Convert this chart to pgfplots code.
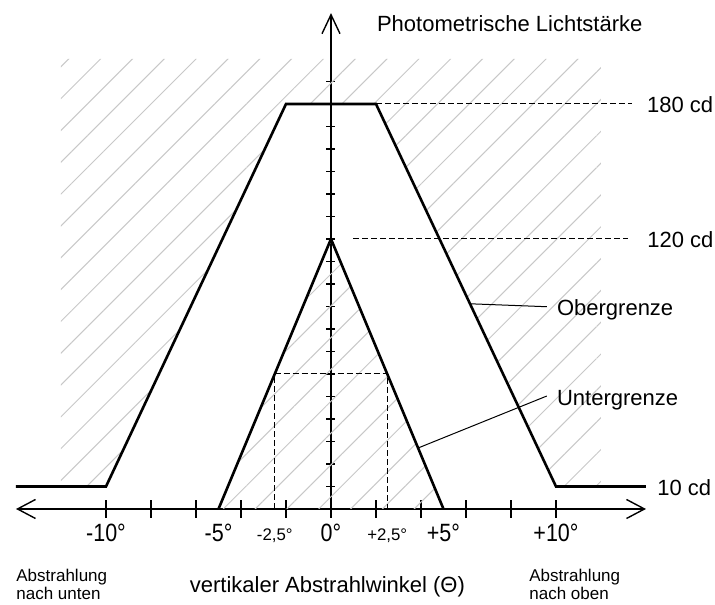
\documentclass[border=0pt]{standalone}
\usepackage{pgfplots}
\pgfplotsset{compat=1.18}
\usepackage{fontspec}
\setmainfont{Liberation Sans}
\newfontfamily\tickfont[FakeStretch=0.86]{Liberation Sans}
\usetikzlibrary{arrows.meta,patterns.meta}
\definecolor{hatch}{RGB}{200,200,200}
\begin{document}
\begin{tikzpicture}
\begin{axis}[
  x=11.25pt, y=1.125pt,
  xmin=-14, xmax=14, ymin=0, ymax=220.4,
  axis lines=middle,
  enlargelimits=false,
  clip=false,
  axis line style={line width=0.7pt, black},
  x axis line style={{Straight Barb[length=9pt,width=9.5pt,line width=0.7pt]}-{Straight Barb[length=9pt,width=9.5pt,line width=0.7pt]}},
  y axis line style={-{Straight Barb[length=9.5pt,width=9pt,line width=0.7pt]}},
  xtick={-10,-8,...,10}, xticklabels={},
  ytick={10,20,30,40,60,70,80,90,110,120,130,140,160,170,180,190}, yticklabels={},
  extra y ticks={50,100,150}, extra y tick labels={},
  tick align=center,
  hide obscured x ticks=false,
  hide obscured y ticks=false,
  xtick style={/pgfplots/major tick length=9pt, black, line width=0.6pt},
  ytick style={/pgfplots/major tick length=4.5pt, black, line width=0.6pt},
  extra y tick style={/pgfplots/major tick length=9.5pt, black, line width=0.6pt},
]
% hatched regions
\addplot[draw=none, pattern={Lines[angle=45,distance=11.25pt,line width=0.5pt]}, pattern color=hatch]
  coordinates {(-12,200) (12,200) (12,10) (10,10) (2,180) (-2,180) (-10,10) (-12,10)} -- cycle;
\addplot[draw=none, pattern={Lines[angle=45,distance=11.25pt,line width=0.5pt]}, pattern color=hatch]
  coordinates {(-5,0) (0,120) (5,0)} -- cycle;
% dashed reference lines
\addplot[black, line width=0.5pt, dash pattern=on 3pt off 1.5pt] coordinates {(2,180) (13.36,180)};
\addplot[black, line width=0.5pt, dash pattern=on 3pt off 1.5pt] coordinates {(1,120) (13.2,120)};
\addplot[black, line width=0.5pt, dash pattern=on 3pt off 1.5pt] coordinates {(-2.5,0) (-2.5,60) (2.5,60) (2.5,0)};
% limit curves
\addplot[black, line width=1.3pt, line join=miter] coordinates {(-14,10) (-10,10) (-2,180) (2,180) (10,10) (14,10)};
\addplot[black, line width=1.3pt, line join=miter] coordinates {(-5,0) (0,120) (5,0)};
% leader lines
\addplot[black, line width=0.5pt] coordinates {(6.18,91.2) (9.59,89.9)};
\addplot[black, line width=0.5pt] coordinates {(3.87,27.1) (9.59,50.2)};
% texts
\node[anchor=base west, inner sep=0pt, font=\fontsize{11}{13}\selectfont] at (axis cs:2.03,212.4) {Photometrische Lichtstärke};
\node[anchor=base west, inner sep=0pt, font=\fontsize{11}{13}\selectfont] at (axis cs:14.03,176.1) {180 cd};
\node[anchor=base west, inner sep=0pt, font=\fontsize{11}{13}\selectfont] at (axis cs:14.04,116.3) {120 cd};
\node[anchor=base west, inner sep=0pt, font=\fontsize{11}{13}\selectfont] at (axis cs:14.49,6.2) {10 cd};
\node[anchor=base west, inner sep=0pt, font=\fontsize{11}{13}\selectfont] at (axis cs:10.03,86.2) {Obergrenze};
\node[anchor=base west, inner sep=0pt, font=\fontsize{11}{13}\selectfont] at (axis cs:10.03,46.2) {Untergrenze};
% tick labels
\node[anchor=base, inner sep=0pt, font=\tickfont\fontsize{12.5}{14}\selectfont] at (axis cs:-10,-14.5) {-10°};
\node[anchor=base, inner sep=0pt, font=\tickfont\fontsize{12.5}{14}\selectfont] at (axis cs:-5,-14.5) {-5°};
\node[anchor=base, inner sep=0pt, font=\tickfont\fontsize{12.5}{14}\selectfont] at (axis cs:0,-14.5) {0°};
\node[anchor=base, inner sep=0pt, font=\tickfont\fontsize{12.5}{14}\selectfont] at (axis cs:5,-14.5) {+5°};
\node[anchor=base, inner sep=0pt, font=\tickfont\fontsize{12.5}{14}\selectfont] at (axis cs:10,-14.5) {+10°};
\node[anchor=base, inner sep=0pt, font=\fontsize{8.4}{10}\selectfont] at (axis cs:-2.5,-13.8) {-2,5°};
\node[anchor=base, inner sep=0pt, font=\fontsize{8.4}{10}\selectfont] at (axis cs:2.5,-13.8) {+2,5°};
% axis title and notes
\node[anchor=base, inner sep=0pt, font=\fontsize{11}{13}\selectfont] at (axis cs:-0.16,-37.3) {vertikaler Abstrahlwinkel (Θ)};
\node[anchor=base west, inner sep=0pt, font=\fontsize{8.5}{10}\selectfont] at (axis cs:-14.0,-32.3) {Abstrahlung};
\node[anchor=base west, inner sep=0pt, font=\fontsize{8.5}{10}\selectfont] at (axis cs:-14.0,-40.4) {nach unten};
\node[anchor=base west, inner sep=0pt, font=\fontsize{8.5}{10}\selectfont] at (axis cs:8.8,-32.3) {Abstrahlung};
\node[anchor=base west, inner sep=0pt, font=\fontsize{8.5}{10}\selectfont] at (axis cs:8.8,-40.4) {nach oben};
\coordinate (bl) at (axis cs:-14.711,-42.67);
\coordinate (tr) at (axis cs:17.067,226.22);
\end{axis}
\pgfresetboundingbox
\useasboundingbox (bl) rectangle (tr);
\end{tikzpicture}
\end{document}
